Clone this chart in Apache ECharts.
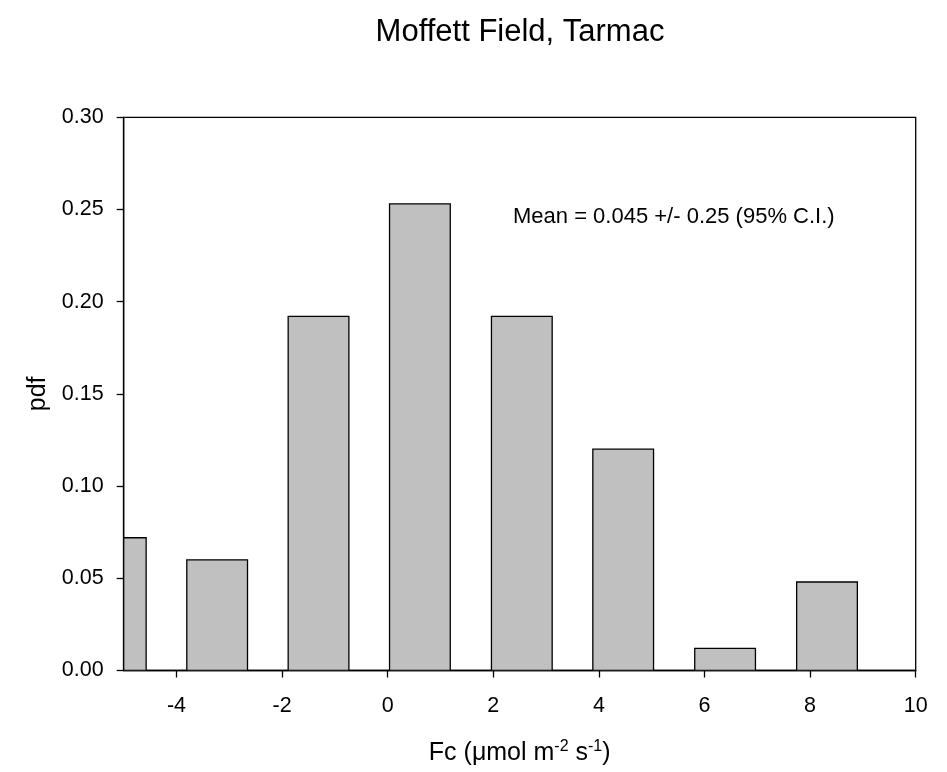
<!DOCTYPE html>
<html>
<head>
<meta charset="utf-8">
<title>Moffett Field, Tarmac</title>
<script src="https://cdn.jsdelivr.net/npm/echarts@6/dist/echarts.min.js"></script>
<style>
    html, body { margin: 0; padding: 0; background: #fff; }
    #chart { width: 947px; height: 772px; }
</style>
</head>
<body>
<div id="chart"></div>
<script>
// histogram bins (centre of each bar, Fc) and pdf heights
const binCenters = [-5.15, -3.23, -1.31, 0.61, 2.54, 4.46, 6.39, 8.32];
const pdfValues = [0.072, 0.060, 0.192, 0.253, 0.192, 0.120, 0.012, 0.048];
const xTicks = [-4, -2, 0, 2, 4, 6, 8, 10];
const annotation = 'Mean = 0.045 +/- 0.25 (95% C.I.)';

const barSpan = 1.15; // bar width in x units
const font = 'Arial, "Liberation Sans", sans-serif';

function setChart() {
    let myChart = echarts.init(document.querySelector('#chart'));
    let option = {
        backgroundColor: '#fff',
        animation: false,
        title: {
            text: 'Moffett Field, Tarmac',
            left: 515,
            top: 12,
            textAlign: 'center',
            textStyle: { fontFamily: font, fontSize: 31, fontWeight: 'normal', color: '#000' }
        },
        grid: {
            left: 123.7,
            right: 31.3,
            top: 117.3,
            bottom: 101.5,
            show: true,
            borderColor: '#000',
            borderWidth: 1.3
        },
        xAxis: {
            type: 'value',
            min: -5,
            max: 10,
            name: '{t|Fc (μmol m}{s|-2}{t| s}{s|-1}{t|)}',
            nameLocation: 'middle',
            nameGap: 68,
            nameTextStyle: {
                rich: {
                    t: { fontFamily: font, fontSize: 25, color: '#000', verticalAlign: 'bottom' },
                    s: { fontFamily: font, fontSize: 16, color: '#000', verticalAlign: 'bottom', padding: [0, 0, 11, 0] }
                }
            },
            splitLine: { show: false },
            axisLine: { show: true, onZero: false, lineStyle: { color: '#000', width: 1.3 } },
            axisTick: { show: true, length: 7, customValues: xTicks, lineStyle: { color: '#000', width: 1.3 } },
            axisLabel: {
                customValues: xTicks,
                margin: 25,
                fontFamily: font,
                fontSize: 21.5,
                color: '#000'
            }
        },
        yAxis: {
            type: 'value',
            min: 0,
            max: 0.3,
            interval: 0.05,
            name: 'pdf',
            nameLocation: 'middle',
            nameGap: 44,
            nameTextStyle: { fontFamily: font, fontSize: 25, color: '#000' },
            splitLine: { show: false },
            axisLine: { show: true, onZero: false, lineStyle: { color: '#000', width: 1.3 } },
            axisTick: { show: true, length: 7, lineStyle: { color: '#000', width: 1.3 } },
            axisLabel: {
                margin: 20,
                fontFamily: font,
                fontSize: 21.5,
                color: '#000',
                formatter: v => v.toFixed(2)
            }
        },
        graphic: [{
            type: 'text',
            left: 513,
            top: 206,
            style: { text: annotation, font: '22px ' + font, fill: '#000' }
        }],
        series: [{
            type: 'custom',
            clip: true,
            data: binCenters.map((c, i) => [c, pdfValues[i]]),
            renderItem: function (params, api) {
                let c = api.value(0);
                let v = api.value(1);
                let p0 = api.coord([c - barSpan / 2, v]);
                let p1 = api.coord([c + barSpan / 2, 0]);
                let rect = echarts.graphic.clipRectByRect(
                    { x: p0[0], y: p0[1], width: p1[0] - p0[0], height: p1[1] - p0[1] },
                    { x: params.coordSys.x, y: params.coordSys.y, width: params.coordSys.width, height: params.coordSys.height }
                );
                return rect && {
                    type: 'rect',
                    shape: rect,
                    style: { fill: '#c0c0c0', stroke: '#000', lineWidth: 1.3 }
                };
            }
        }]
    };
    myChart.setOption(option);
}

window.onload = function () {
    setChart();
}
</script>
</body>
</html>
